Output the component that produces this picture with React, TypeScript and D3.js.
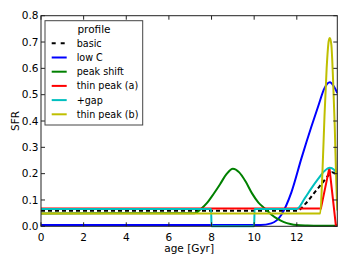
import React from "react";
import * as d3 from "d3";

const xTicks = [0, 2, 4, 6, 8, 10, 12];
const yTicks = [0, 0.1, 0.2, 0.3, 0.4, 0.5, 0.6, 0.7, 0.8];

const basicAge = [0, 12.0, 12.4, 12.8, 13.2, 13.5, 13.65, 13.8, 13.9];
const basicSFR = [0.059, 0.059, 0.085, 0.125, 0.165, 0.195, 0.205, 0.2, 0.19];

const lowCAge = [0, 10.3, 10.8, 11.27, 11.75, 12.22, 12.69, 13.0, 13.3, 13.55, 13.75, 13.9];
const lowCSFR = [0.005, 0.005, 0.011, 0.043, 0.13, 0.259, 0.38, 0.455, 0.525, 0.547, 0.53, 0.506];

const peakShiftAge = [0, 7.2, 7.5, 7.8, 8.0, 8.4, 8.7, 9.0, 9.3, 9.6, 9.9, 10.2, 10.5, 10.8, 11.1, 11.4, 11.7, 12.0, 12.5, 13.0, 13.9];
const peakShiftSFR = [0.049, 0.05, 0.066, 0.09, 0.112, 0.16, 0.198, 0.219, 0.205, 0.17, 0.125, 0.09, 0.068, 0.045, 0.028, 0.016, 0.009, 0.005, 0.003, 0.002, 0.002];

const thinAAge = [0, 13.13, 13.53, 13.83, 13.9];
const thinASFR = [0.068, 0.068, 0.223, 0.005, 0.005];

const gapAge = [0, 7.98, 8.0, 10.0, 10.02, 12.0, 12.37, 12.69, 13.0, 13.3, 13.55, 13.75, 13.9];
const gapSFR = [0.066, 0.066, 0, 0, 0.066, 0.066, 0.106, 0.145, 0.18, 0.21, 0.222, 0.215, 0.198];

const thinBAge = [0, 13.1, 13.2, 13.3, 13.4, 13.5, 13.55, 13.62, 13.7, 13.78, 13.85, 13.9];
const thinBSFR = [0.049, 0.049, 0.2, 0.42, 0.6, 0.705, 0.715, 0.69, 0.56, 0.38, 0.17, 0.06];

const labels = ["basic", "low C", "peak shift", "thin peak (a)", "+gap", "thin peak (b)"];

const series = [
  { name: labels[0], age: basicAge, sfr: basicSFR, color: "#000000", dash: "4,3", smooth: true },
  { name: labels[1], age: lowCAge, sfr: lowCSFR, color: "#0000ff", dash: null, smooth: true },
  { name: labels[2], age: peakShiftAge, sfr: peakShiftSFR, color: "#008000", dash: null, smooth: true },
  { name: labels[3], age: thinAAge, sfr: thinASFR, color: "#ff0000", dash: null, smooth: false },
  { name: labels[4], age: gapAge, sfr: gapSFR, color: "#00bfbf", dash: null, smooth: true },
  { name: labels[5], age: thinBAge, sfr: thinBSFR, color: "#bfbf00", dash: null, smooth: true },
];

export default function App() {
  const W = 349, H = 262;
  const L = 41, R = 337.3, T = 15.7, B = 226.3;
  const x = d3.scaleLinear().domain([0, 13.9]).range([L, R]);
  const y = d3.scaleLinear().domain([0, 0.8]).range([B, T]);
  const font = "'DejaVu Sans', sans-serif";

  return (
    <svg width={W} height={H} style={{ position: "absolute", left: 0, top: 0 }}>
      <defs>
        <clipPath id="plotclip">
          <rect x={L} y={T - 2} width={R - L} height={B - T + 4} />
        </clipPath>
      </defs>
      <rect x={0} y={0} width={W} height={H} fill="#fff" />
      <g clipPath="url(#plotclip)">
        {series.map((s) => {
          const line = d3
            .line<number>()
            .x((d, i) => x(s.age[i]))
            .y((d) => y(d))
            .curve(s.smooth ? d3.curveMonotoneX : d3.curveLinear);
          return (
            <path
              key={s.name}
              d={line(s.sfr) || ""}
              fill="none"
              stroke={s.color}
              strokeWidth={2}
              strokeDasharray={s.dash || undefined}
            />
          );
        })}
      </g>
      <rect x={L} y={T} width={R - L} height={B - T} fill="none" stroke="#222" strokeWidth={1} />
      {xTicks.map((t) => (
        <g key={"x" + t}>
          <line x1={x(t)} x2={x(t)} y1={B} y2={B - 4} stroke="#222" />
          <line x1={x(t)} x2={x(t)} y1={T} y2={T + 4} stroke="#222" />
          <text x={x(t)} y={241} fontSize={10.5} fontFamily={font} textAnchor="middle">
            {t}
          </text>
        </g>
      ))}
      {yTicks.map((t) => (
        <g key={"y" + t}>
          <line x1={L} x2={L + 4} y1={y(t)} y2={y(t)} stroke="#222" />
          <line x1={R} x2={R - 4} y1={y(t)} y2={y(t)} stroke="#222" />
          <text x={38.5} y={y(t)} dy="0.36em" fontSize={10.5} fontFamily={font} textAnchor="end">
            {t.toFixed(1)}
          </text>
        </g>
      ))}
      <text x={(L + R) / 2} y={252} fontSize={10.5} fontFamily={font} textAnchor="middle">
        age [Gyr]
      </text>
      <text
        transform={`translate(19,${(T + B) / 2}) rotate(-90)`}
        fontSize={10.5}
        fontFamily={font}
        textAnchor="middle"
      >
        SFR
      </text>
      <g>
        <rect x={45} y={20.7} width={97.7} height={104.3} fill="#fff" stroke="#444" strokeWidth={1} />
        <text x={94} y={29.3} dy="0.36em" fontSize={10.5} fontFamily={font} textAnchor="middle">
          profile
        </text>
        {series.map((s, i) => {
          const cy = 43.3 + i * 14.2;
          return (
            <g key={"lg" + s.name}>
              <line
                x1={51.7}
                x2={66.7}
                y1={cy}
                y2={cy}
                stroke={s.color}
                strokeWidth={2}
                strokeDasharray={s.dash ? "4,5" : undefined}
              />
              <text x={76.7} y={cy} dy="0.36em" fontSize={9.6} fontFamily={font}>
                {s.name}
              </text>
            </g>
          );
        })}
      </g>
    </svg>
  );
}
